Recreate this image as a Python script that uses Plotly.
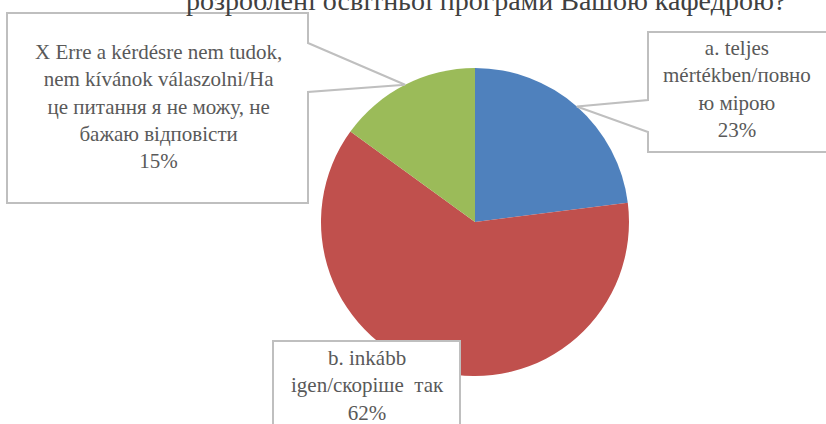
import math

import plotly.graph_objects as go

# --- data -------------------------------------------------------------------
labels = [
    "a. teljes<br>mértékben/повно<br>ю мірою",
    "b. inkább<br>igen/скоріше  так",
    "X Erre a kérdésre nem tudok,<br>nem kívánok válaszolni/На<br>це питання я не можу, не<br>бажаю відповісти",
]
shares = [23, 62, 15]
colors = ["#4F81BD", "#C0504D", "#9BBB59"]
title_text = "розроблені освітньої програми Вашою кафедрою?"

W, H = 826, 424
CX, CY, R = 475, 222, 154


def px(x):
    return x / W


def py(y):
    return 1 - y / H


def slice_tip(i):
    """point on the rim at the middle of slice i (clockwise from 12 o'clock)"""
    total = sum(shares)
    start = sum(shares[:i]) / total
    mid = (start + shares[i] / total / 2) * 2 * math.pi
    return CX + R * math.sin(mid), CY - R * math.cos(mid)


def path(points):
    return "M " + " L ".join(f"{px(x):.5f},{py(y):.5f}" for x, y in points) + " Z"


fig = go.Figure()
fig.add_trace(
    go.Pie(
        values=shares,
        labels=labels,
        sort=False,
        direction="clockwise",
        rotation=0,
        marker=dict(colors=colors, line=dict(width=0)),
        textinfo="none",
        hoverinfo="label+percent",
        showlegend=False,
        domain=dict(x=[px(CX - R), px(CX + R)], y=[py(CY + R), py(CY - R)]),
    )
)

# callout boxes (label boxes with pointers toward their slices)
tip_a = slice_tip(0)
tip_x = slice_tip(2)
boxes = [
    [(648, 32), (827, 32), (827, 152), (648, 152), (648, 132), tip_a, (648, 100)],
    [(7, 13), (308, 13), (308, 43), tip_x, (308, 92), (308, 203), (7, 203)],
    [(273, 341), (460, 341), (460, 430), (273, 430)],
]
for pts in boxes:
    fig.add_shape(
        type="path",
        xref="paper",
        yref="paper",
        path=path(pts),
        line=dict(color="#BFBFBF", width=2),
        fillcolor="white",
        layer="above",
    )

font = dict(family="Liberation Serif, Times New Roman, serif", size=21, color="#595959")
label_pos = [(737, 89), (367, 385), (158, 106)]
for i, (x, y) in enumerate(label_pos):
    fig.add_annotation(
        x=px(x),
        y=py(y),
        xref="paper",
        yref="paper",
        xanchor="center",
        yanchor="middle",
        text=f"{labels[i]}<br>{shares[i]}%",
        showarrow=False,
        align="center",
        font=font,
    )

fig.add_annotation(
    x=px(486),
    y=py(18),
    xref="paper",
    yref="paper",
    xanchor="center",
    yanchor="bottom",
    text=title_text,
    showarrow=False,
    font=dict(family="Liberation Serif, Times New Roman, serif", size=28, color="#404040"),
)

fig.update_layout(
    width=W,
    height=H,
    margin=dict(t=0, r=0, b=0, l=0),
    paper_bgcolor="white",
    plot_bgcolor="white",
    font=dict(family="Liberation Serif, Times New Roman, serif"),
)
fig.write_html(
    "out.html",
    config={"displayModeBar": False},
    post_script="document.body.style.margin = '0px';",
)
